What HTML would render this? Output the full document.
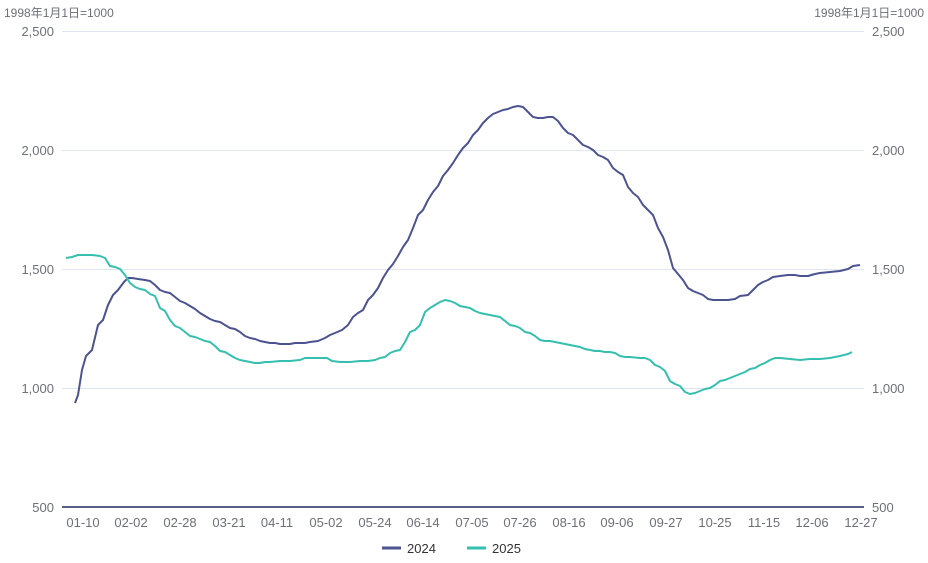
<!DOCTYPE html>
<html><head><meta charset="utf-8"><style>
body{margin:0;background:#fff}
svg{display:block;font-family:"Liberation Sans","Noto Sans CJK SC",sans-serif}
</style></head><body>
<svg width="928" height="563" viewBox="0 0 928 563">
<g fill="#6E7079" font-size="12">
<text x="4" y="17">1998年1月1日=1000</text>
<text x="924" y="17" text-anchor="end">1998年1月1日=1000</text>
</g>
<g stroke="#E0E6F1" stroke-width="1">
<line x1="62" y1="31.5" x2="864" y2="31.5"/>
<line x1="62" y1="150.5" x2="864" y2="150.5"/>
<line x1="62" y1="269.5" x2="864" y2="269.5"/>
<line x1="62" y1="388.5" x2="864" y2="388.5"/>
</g>
<line x1="62" y1="507" x2="864" y2="507" stroke="#5a5f8a" stroke-width="2"/>
<g fill="#6E7079" font-size="13" text-anchor="end">
<text x="54" y="36">2,500</text><text x="54" y="155">2,000</text><text x="54" y="274">1,500</text><text x="54" y="393">1,000</text><text x="54" y="512">500</text>
</g>
<g fill="#6E7079" font-size="13">
<text x="872" y="36">2,500</text><text x="872" y="155">2,000</text><text x="872" y="274">1,500</text><text x="872" y="393">1,000</text><text x="872" y="512">500</text>
</g>
<g fill="#6E7079" font-size="13" text-anchor="middle">
<text x="83" y="527">01-10</text><text x="131" y="527">02-02</text><text x="180" y="527">02-28</text><text x="229" y="527">03-21</text><text x="277" y="527">04-11</text><text x="326" y="527">05-02</text><text x="375" y="527">05-24</text><text x="423" y="527">06-14</text><text x="472" y="527">07-05</text><text x="520" y="527">07-26</text><text x="569" y="527">08-16</text><text x="617" y="527">09-06</text><text x="666" y="527">09-27</text><text x="715" y="527">10-25</text><text x="764" y="527">11-15</text><text x="812" y="527">12-06</text><text x="861" y="527">12-27</text>
</g>
<polyline fill="none" stroke="#4b5391" stroke-width="2" stroke-linejoin="round" points="75,403 78,395 82,370 86,356 92,350 98,325 103,320 108,305 113,295 118,290 124,282 128,278 132,278 138,279 145,280 150,281 155,285 160,290 165,292 170,293 175,297 180,301 185,303 190,306 195,309 200,313 205,316 210,319 215,321 220,322 225,325 230,328 235,329 240,332 245,336 250,338 255,339 260,341 265,342 270,343 275,343 280,344 285,344 290,344 295,343 300,343 305,343 310,342 318,341 325,338 330,335 335,333 342,330 348,325 353,317 358,313 363,310 368,300 373,295 378,288 383,278 388,270 393,264 398,256 403,247 408,240 413,228 418,215 423,210 428,200 433,192 438,186 443,176 448,170 453,163 458,155 463,148 468,143 473,135 478,130 483,123 488,118 493,114 498,112 503,110 508,109 513,107 518,106 523,107 528,112 533,117 538,118 543,118 548,117 553,117 558,121 563,128 568,133 573,135 578,140 583,145 588,147 593,150 598,155 603,157 608,160 613,168 618,172 623,175 628,187 633,193 638,197 643,205 648,210 653,215 658,228 663,237 668,250 673,268 678,274 683,280 688,288 693,291 698,293 703,295 708,299 713,300 720,300 728,300 735,299 740,296 748,295 753,290 758,285 763,282 768,280 773,277 780,276 788,275 795,275 800,276 808,276 815,274 820,273 830,272 840,271 848,269 853,266 860,265"/>
<polyline fill="none" stroke="#35bfae" stroke-width="2" stroke-linejoin="round" points="66,258 72,257 78,255 85,255 92,255 100,256 105,258 110,266 115,267 120,269 125,275 130,283 135,287 140,289 145,290 150,294 155,296 160,308 165,311 170,320 175,326 180,328 185,332 190,336 195,337 200,339 205,341 210,342 215,346 220,351 225,352 230,355 235,358 240,360 245,361 250,362 255,363 260,363 265,362 270,362 280,361 290,361 300,360 305,358 310,358 320,358 327,358 332,361 340,362 350,362 360,361 368,361 375,360 380,358 385,357 390,353 395,351 400,350 405,342 410,332 415,330 420,325 425,312 430,308 435,305 440,302 445,300 450,301 455,303 460,306 465,307 470,308 475,311 480,313 485,314 490,315 495,316 500,317 505,321 510,325 515,326 520,328 525,332 530,333 535,336 540,340 545,341 550,341 555,342 560,343 565,344 570,345 575,346 580,347 585,349 590,350 595,351 600,351 605,352 610,352 615,353 620,356 625,357 630,357 640,358 645,358 650,360 655,365 660,367 665,371 670,381 675,384 680,386 685,392 690,394 695,393 700,391 705,389 710,388 715,385 720,381 725,380 730,378 735,376 740,374 745,372 750,369 755,368 760,365 765,363 770,360 775,358 780,358 790,359 800,360 810,359 820,359 830,358 840,356 848,354 852,352"/>
<line x1="382" y1="548" x2="401" y2="548" stroke="#4b5391" stroke-width="3"/>
<text x="407" y="553" font-size="13" fill="#333">2024</text>
<line x1="467" y1="548" x2="486" y2="548" stroke="#35bfae" stroke-width="3"/>
<text x="492" y="553" font-size="13" fill="#333">2025</text>
</svg>
</body></html>
